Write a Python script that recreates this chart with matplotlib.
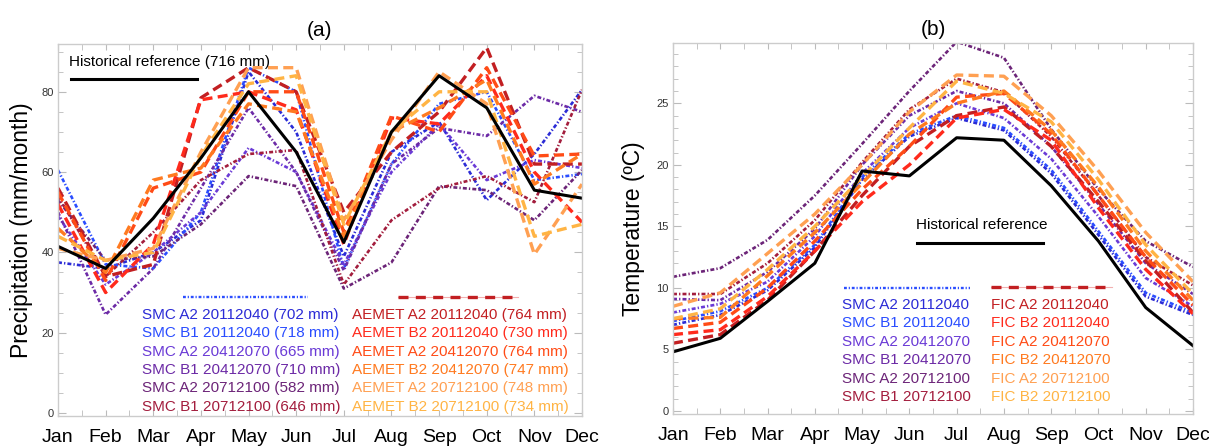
import matplotlib
matplotlib.use("Agg")
import matplotlib.pyplot as plt
from matplotlib.lines import Line2D
from matplotlib.ticker import MultipleLocator

plt.rcParams['font.family'] = ['Liberation Sans', 'DejaVu Sans']

months = ['Jan', 'Feb', 'Mar', 'Apr', 'May', 'Jun', 'Jul', 'Aug', 'Sep', 'Oct', 'Nov', 'Dec']
x = list(range(1, 13))

# ---- (a) precipitation, mm/month ----
hist_p = [41.5, 36, 48.5, 63.5, 80, 65, 42.5, 70, 84, 76, 55.5, 53.5]

smc_a2_2011_p = [37.5, 36, 40, 48, 85, 70, 39, 65, 72.5, 53, 64.5, 80.5]
smc_b1_2011_p = [60.5, 37, 36, 50, 86, 80, 36, 62, 77, 80, 58, 59.5]
smc_a2_2041_p = [49, 32, 40, 50, 66, 60, 37, 60, 72, 58, 63, 61]
smc_b1_2041_p = [50, 24.5, 36, 56, 76, 60, 35.5, 62, 71, 69, 79, 75]
smc_a2_2071_p = [53, 38, 39, 47, 59, 56.5, 31, 37.5, 56.5, 55.5, 48, 60.5]
smc_b1_2071_p = [54, 34, 45, 58, 64.5, 65.5, 32, 48, 56, 59, 52.5, 80.5]

aemet_a2_2011_p = [56, 34, 37, 78.5, 86, 80, 50, 65, 75, 91, 62, 62]
aemet_b2_2011_p = [52, 30, 42, 78, 80, 75.5, 42, 73.5, 72, 84, 60, 47.5]
aemet_a2_2041_p = [55, 33, 56, 60, 80, 80, 45, 74, 70, 86, 64, 64.5]
aemet_b2_2041_p = [46, 35, 58, 61, 77, 75, 44, 70, 76, 83, 57, 64.5]
aemet_a2_2071_p = [41, 38, 41, 65, 86, 86, 48, 68, 85, 77, 39.5, 57]
aemet_b2_2071_p = [44, 38, 40, 64, 82, 84, 47, 70, 80, 80, 44, 47]

smc_labels_p = ['SMC A2 20112040 (702 mm)', 'SMC B1 20112040 (718 mm)',
                'SMC A2 20412070 (665 mm)', 'SMC B1 20412070 (710 mm)',
                'SMC A2 20712100 (582 mm)', 'SMC B1 20712100 (646 mm)']
aemet_labels_p = ['AEMET A2 20112040 (764 mm)', 'AEMET B2 20112040 (730 mm)',
                  'AEMET A2 20412070 (764 mm)', 'AEMET B2 20412070 (747 mm)',
                  'AEMET A2 20712100 (748 mm)', 'AEMET B2 20712100 (734 mm)']

# ---- (b) temperature, degC ----
hist_t = [4.8, 5.9, 8.9, 12.0, 19.5, 19.1, 22.2, 22.0, 18.3, 13.8, 8.4, 5.3]

smc_a2_2011_t = [7.0, 7.8, 9.8, 13.3, 18.8, 22.3, 23.8, 22.8, 19.3, 14.3, 9.3, 7.8]
smc_b1_2011_t = [7.3, 8.1, 10.0, 13.5, 19.0, 22.5, 24.0, 23.0, 19.6, 14.6, 9.6, 8.0]
smc_a2_2041_t = [8.0, 8.7, 10.5, 14.2, 19.3, 23.0, 25.0, 23.8, 20.5, 15.8, 10.8, 8.5]
smc_b1_2041_t = [9.1, 9.0, 11.3, 14.8, 20.0, 24.0, 26.0, 25.0, 21.5, 16.8, 12.0, 9.5]
smc_a2_2071_t = [10.9, 11.6, 13.9, 17.5, 21.7, 26.0, 30.0, 28.7, 22.9, 18.0, 13.8, 11.7]
smc_b1_2071_t = [9.5, 9.5, 12.0, 15.5, 20.2, 24.5, 27.0, 25.9, 22.3, 17.5, 12.5, 10.2]

fic_a2_2011_t = [5.5, 6.2, 9.0, 13.0, 17.5, 21.5, 24.0, 24.7, 21.5, 17.0, 12.2, 8.0]
fic_b2_2011_t = [6.2, 6.6, 9.3, 13.0, 17.0, 20.0, 23.8, 24.5, 22.0, 16.5, 11.5, 7.9]
fic_a2_2041_t = [6.7, 7.2, 10.0, 13.8, 18.0, 21.5, 25.5, 25.8, 22.5, 17.5, 12.5, 8.6]
fic_b2_2041_t = [7.5, 7.6, 11.0, 14.5, 18.5, 22.5, 25.0, 26.0, 22.8, 18.2, 13.0, 9.0]
fic_a2_2071_t = [8.5, 9.6, 12.8, 16.0, 20.0, 24.3, 27.3, 27.2, 24.0, 19.5, 14.5, 10.5]
fic_b2_2071_t = [7.5, 8.3, 11.5, 15.0, 19.0, 23.0, 26.8, 25.8, 23.5, 18.8, 13.5, 9.5]

smc_labels_t = ['SMC A2 20112040', 'SMC B1 20112040', 'SMC A2 20412070',
                'SMC B1 20412070', 'SMC A2 20712100', 'SMC B1 20712100']
fic_labels_t = ['FIC A2 20112040', 'FIC B2 20112040', 'FIC A2 20412070',
                'FIC B2 20412070', 'FIC A2 20712100', 'FIC B2 20712100']

smc_colors = ['#2b2bd6', '#2a4dff', '#6a3ad6', '#6c2aa6', '#6c2478', '#a31d3d']
reg_colors = ['#c21f22', '#ff2a1c', '#ff4b16', '#ff7a20', '#ffa052', '#ffb444']

DASHDOT = (1.5, 0.8, 0.5, 0.8)
DASH = (3.0, 1.6)

W, H = 1209, 448
fig = plt.figure(figsize=(W / 100, H / 100), dpi=100)


def px(x0, y0):
    return x0 / W, 1 - y0 / H


def style_axes(ax, ymaj, ymin):
    ax.set_xlim(1, 12)
    ax.set_xticks(x)
    ax.set_xticklabels(months, family=['Liberation Sans Narrow', 'Liberation Sans'], fontsize=14)
    ax.xaxis.set_minor_locator(MultipleLocator(0.5))
    ax.yaxis.set_major_locator(MultipleLocator(ymaj))
    ax.yaxis.set_minor_locator(MultipleLocator(ymin))
    ax.tick_params(axis='both', which='both', direction='in', top=True, right=True,
                   color='#bbbbbb')
    ax.tick_params(axis='x', which='both', length=4, pad=9)
    ax.tick_params(axis='y', which='major', length=6, pad=3, labelsize=8, labelcolor='#333333')
    ax.tick_params(axis='y', which='minor', length=3.5)
    for s in ax.spines.values():
        s.set_color('#cccccc')
        s.set_linewidth(1.0)


def draw_series(ax, smc, reg):
    for vals, c in zip(smc, smc_colors):
        ax.plot(x, vals, color=c, lw=1.9, dashes=DASHDOT)
    for vals, c in zip(reg, reg_colors):
        ax.plot(x, vals, color=c, lw=2.4, dashes=DASH)


def legend_block(x_smc, x_reg, y_first, step, smc_labels, reg_labels, y_line, smc_seg, reg_seg):
    fig.add_artist(Line2D([smc_seg[0] / W, smc_seg[1] / W], [1 - y_line[0] / H] * 2,
                          color='#2a4dff', lw=1.7, dashes=(1.2, 0.8, 0.5, 0.8)))
    fig.add_artist(Line2D([reg_seg[0] / W, reg_seg[1] / W], [1 - y_line[1] / H] * 2,
                          color='#f2b0b0', lw=0.8))
    fig.add_artist(Line2D([reg_seg[0] / W, reg_seg[1] / W], [1 - y_line[1] / H] * 2,
                          color='#c21f22', lw=2.4, dashes=(3.0, 2.2)))
    for i, (t, c) in enumerate(zip(smc_labels, smc_colors)):
        fig.text(*px(x_smc, y_first + i * step), t, color=c, fontsize=11, va='center')
    for i, (t, c) in enumerate(zip(reg_labels, reg_colors)):
        fig.text(*px(x_reg, y_first + i * step), t, color=c, fontsize=11, va='center')


# panel (a)
ax1 = fig.add_axes([58 / W, 1 - 416 / H, 524 / W, 372 / H])
draw_series(ax1,
            [smc_a2_2011_p, smc_b1_2011_p, smc_a2_2041_p, smc_b1_2041_p, smc_a2_2071_p, smc_b1_2071_p],
            [aemet_a2_2011_p, aemet_b2_2011_p, aemet_a2_2041_p, aemet_b2_2041_p, aemet_a2_2071_p, aemet_b2_2071_p])
ax1.plot(x, hist_p, color='black', lw=2.2)
ax1.set_ylim(-0.75, 91.9)
style_axes(ax1, 20, 5)
ax1.set_ylabel('Precipitation (mm/month)', fontsize=16.5, labelpad=6)
ax1.set_title('(a)', fontsize=15, pad=6)

fig.text(*px(69, 62), 'Historical reference (716 mm)', fontsize=11, va='center')
fig.add_artist(Line2D([71 / W, 197 / W], [1 - 79 / H] * 2, color='black', lw=2.2))
legend_block(142, 352, 315, 18.3, smc_labels_p, aemet_labels_p, (297, 297), (183, 308), (398, 518))

# panel (b)
ax2 = fig.add_axes([673 / W, 1 - 414 / H, 520 / W, 371 / H])
draw_series(ax2,
            [smc_a2_2011_t, smc_b1_2011_t, smc_a2_2041_t, smc_b1_2041_t, smc_a2_2071_t, smc_b1_2071_t],
            [fic_a2_2011_t, fic_b2_2011_t, fic_a2_2041_t, fic_b2_2041_t, fic_a2_2071_t, fic_b2_2071_t])
ax2.plot(x, hist_t, color='black', lw=2.2)
ax2.set_ylim(-0.25, 29.9)
style_axes(ax2, 5, 1)
ax2.set_ylabel('Temperature (ºC)', fontsize=16.5, labelpad=8)
ax2.set_title('(b)', fontsize=15, pad=6)

fig.text(*px(916, 225), 'Historical reference', fontsize=11, va='center')
fig.add_artist(Line2D([917 / W, 1043 / W], [1 - 243 / H] * 2, color='black', lw=2.2))
legend_block(842, 991, 305, 18.4, smc_labels_t, fic_labels_t, (288, 287), (844, 970), (991, 1112))

fig.savefig('out.png', dpi=100)
